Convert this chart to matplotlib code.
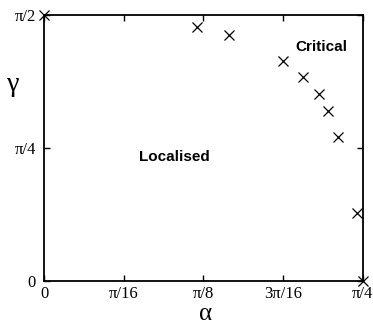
import numpy as np
import matplotlib
matplotlib.use("Agg")
import matplotlib.pyplot as plt

plt.rcParams['mathtext.fontset'] = 'custom'
plt.rcParams['mathtext.rm'] = 'Liberation Serif'
plt.rcParams['mathtext.it'] = 'Liberation Serif'

# critical points, in units of pi
alpha_pi = [0.0, 0.1197, 0.145, 0.1873, 0.2027, 0.2155, 0.2226, 0.2307, 0.2451, 0.25]
gamma_pi = [0.5, 0.4769, 0.4624, 0.4141, 0.3829, 0.3509, 0.3195, 0.2712, 0.1273, 0.0]

xtick_vals = [0, np.pi/16, np.pi/8, 3*np.pi/16, np.pi/4]
xtick_labels = ['0', 'π/16', 'π/8', '3π/16', 'π/4']
ytick_vals = [0, np.pi/4, np.pi/2]
ytick_labels = ['0', 'π/4', 'π/2']

serif = 'Liberation Serif'

fig = plt.figure(figsize=(3.73, 3.25), dpi=100)
ax = fig.add_axes([0.118, 0.135, 0.855, 0.819])

a = np.array(alpha_pi) * np.pi
g = np.array(gamma_pi) * np.pi
ax.plot(a, g, linestyle='none', marker='x', color='black', markersize=7.5,
        markeredgewidth=0.9, clip_on=False, zorder=5)

ax.set_xlim(0, np.pi/4)
ax.set_ylim(0, np.pi/2)
ax.set_xticks(xtick_vals)
ax.set_xticklabels(xtick_labels, fontfamily=serif, fontsize=12)
ax.set_yticks(ytick_vals)
ax.set_yticklabels(ytick_labels, fontfamily=serif, fontsize=12)
ax.tick_params(direction='in', top=True, right=True, length=4, width=1, pad=3.5)
ax.tick_params(axis='y', pad=6)
for s in ax.spines.values():
    s.set_linewidth(1.3)

ax.text(0.871, 0.88, 'Critical', fontfamily='Liberation Sans', fontweight='bold',
        fontsize=11, ha='center', va='center', transform=ax.transAxes)
ax.text(0.41, 0.466, 'Localised', fontfamily='Liberation Sans', fontweight='bold',
        fontsize=11, ha='center', va='center', transform=ax.transAxes)

fig.text(205/373, 1 - 313.5/325, r'$\alpha$', fontsize=18, ha='center', va='center')
fig.text(13/373, 1 - 84/325, 'γ', fontfamily=serif, fontsize=20, ha='center', va='center')

fig.savefig('out.png', dpi=100)
